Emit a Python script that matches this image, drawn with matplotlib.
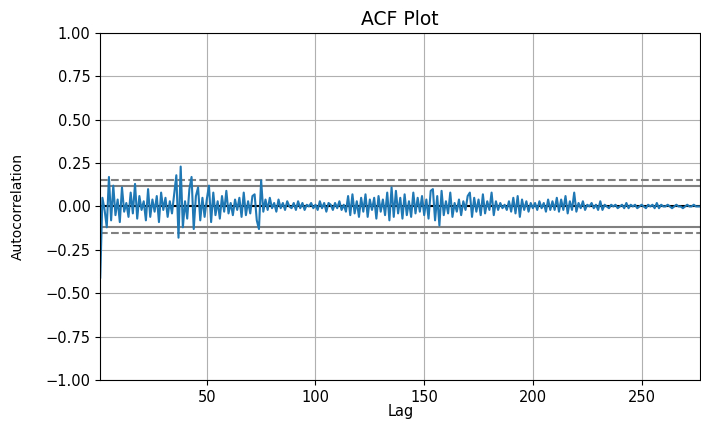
import numpy as np
import matplotlib
matplotlib.use("Agg")
import matplotlib.pyplot as plt

# autocorrelation values (lag 1 .. 277)
acf = [
    -0.41, 0.05, -0.02, -0.12, 0.17, -0.08, 0.12, -0.05, 0.04, -0.09,
    0.11, -0.03, 0.02, -0.06, 0.08, -0.04, 0.13, -0.07, 0.06, -0.02,
    0.03, -0.08, 0.10, -0.06, 0.04, -0.03, 0.06, -0.09, 0.08, -0.02,
    0.05, -0.06, 0.03, -0.04, 0.07, 0.18, -0.18, 0.23, -0.12, 0.03,
    -0.07, 0.10, 0.17, -0.13, 0.06, 0.11, -0.08, 0.05, -0.06, 0.04,
    0.12, -0.09, 0.08, -0.05, 0.03, -0.07, 0.06, -0.03, 0.09, -0.04,
    0.02, -0.05, 0.04, -0.02, 0.05, -0.06, 0.08, -0.05, 0.03, -0.04,
    0.06, 0.07, -0.08, -0.13, 0.15, -0.03, 0.04, -0.02, 0.05, -0.01,
    0.02, -0.03, 0.04, -0.01, 0.02, -0.02, 0.03, 0.00, -0.01, 0.02,
    -0.02, 0.03, -0.01, 0.02, -0.02, 0.01, 0.00, 0.02, -0.01, 0.01,
    -0.02, 0.03, -0.01, 0.02, -0.03, 0.02, 0.01, -0.02, 0.02, -0.01,
    0.03, -0.02, 0.01, -0.03, 0.06, -0.05, 0.07, -0.04, 0.03, -0.06,
    0.05, -0.03, 0.07, -0.06, 0.04, -0.02, 0.05, -0.07, 0.06, -0.03,
    0.04, -0.05, 0.08, -0.08, 0.11, -0.06, 0.09, -0.04, 0.05, -0.07,
    0.07, -0.05, 0.03, -0.06, 0.08, -0.04, 0.05, -0.03, 0.06, -0.05,
    0.04, -0.07, 0.09, 0.10, -0.08, 0.06, -0.11, 0.09, -0.05, 0.03,
    -0.04, 0.08, -0.06, 0.02, -0.03, 0.04, -0.05, 0.03, -0.02, 0.06,
    0.08, -0.06, 0.05, -0.03, 0.04, -0.05, 0.07, -0.04, 0.03, -0.02,
    0.08, -0.05, 0.03, -0.02, 0.02, -0.01, 0.01, -0.02, 0.03, -0.03,
    0.05, -0.04, 0.06, -0.06, 0.04, -0.02, 0.03, -0.03, 0.02, -0.01,
    0.02, -0.02, 0.03, -0.01, 0.02, -0.03, 0.04, -0.02, 0.03, -0.02,
    0.05, -0.03, 0.04, -0.02, 0.06, -0.04, 0.03, -0.02, 0.08, -0.03,
    0.02, -0.01, 0.03, -0.02, 0.01, 0.00, 0.02, -0.01, 0.01, -0.02,
    0.03, -0.02, 0.01, 0.00, -0.01, 0.01, 0.00, 0.01, -0.01, 0.00,
    0.01, -0.01, 0.02, -0.01, 0.01, 0.00, 0.01, -0.01, 0.00, 0.01,
    0.00, -0.01, 0.01, 0.00, 0.01, -0.01, 0.02, -0.01, 0.01, 0.00,
    0.00, 0.01, 0.00, -0.01, 0.00, 0.01, 0.00, 0.00, -0.01, 0.00,
    0.01, 0.00, 0.00, 0.01, 0.00, 0.00, 0.00,
]
n = len(acf)
lags = np.arange(1, n + 1)

z95 = 1.959963984540054
z99 = 2.5758293035489

fig = plt.figure(figsize=(7.01, 4.23), dpi=100)
ax = fig.add_axes([0.143, 0.1017, 0.856, 0.8204])

ax.axhline(y=z99 / np.sqrt(n), linestyle="--", color="grey")
ax.axhline(y=z95 / np.sqrt(n), color="grey")
ax.axhline(y=0.0, color="black")
ax.axhline(y=-z95 / np.sqrt(n), color="grey")
ax.axhline(y=-z99 / np.sqrt(n), linestyle="--", color="grey")
ax.plot(lags, acf)

ax.set_xlim(1, n)
ax.set_ylim(-1.0, 1.0)
ax.tick_params(labelsize=10.5)
ax.set_xlabel("Lag", fontsize=10.5)
ax.xaxis.set_label_coords(0.5, -0.068)
ax.set_ylabel("Autocorrelation", fontsize=10)
ax.yaxis.set_label_coords(-0.125, 0.5)
ax.set_title("ACF Plot", fontsize=13.5)
ax.grid()

fig.savefig("out.png", dpi=100)
